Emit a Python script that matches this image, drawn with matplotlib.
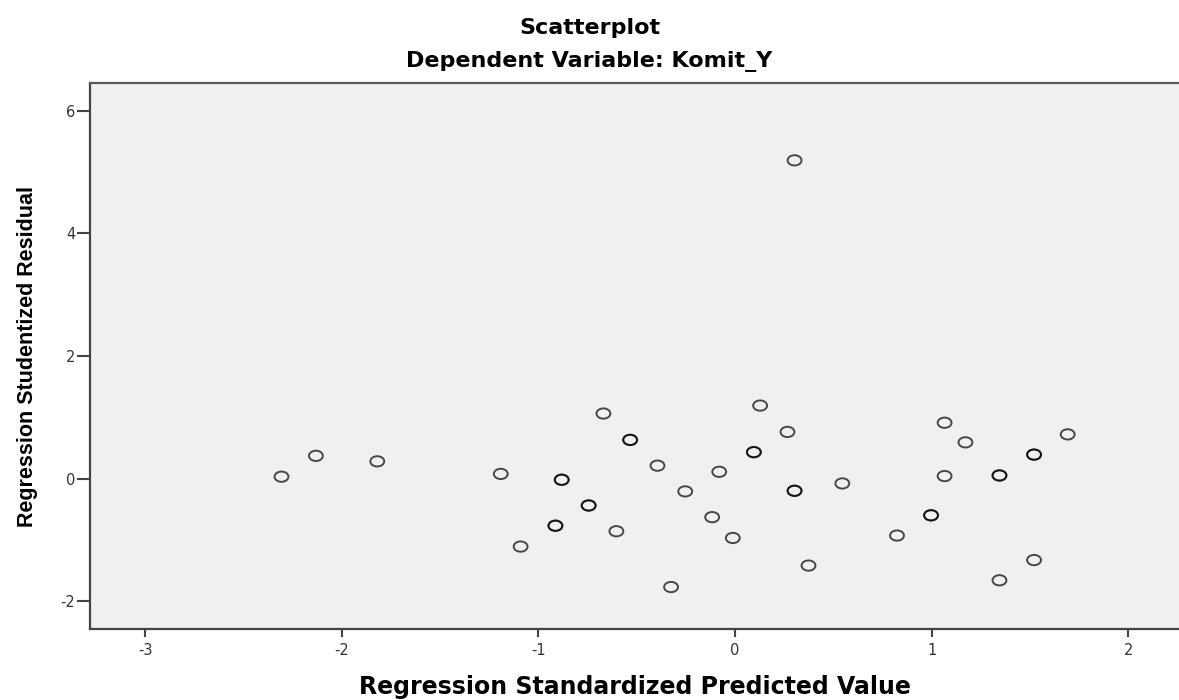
import numpy as np
import matplotlib
matplotlib.use("Agg")
import matplotlib.pyplot as plt
from matplotlib.path import Path
from matplotlib.transforms import Affine2D

# Regression Standardized Predicted Value vs Regression Studentized Residual
# (points that appear darker in the reference are plotted twice = overlapping cases)
pred = [-2.306, -2.131, -1.819, -1.191, -0.669,
        -0.533, -0.533, -0.394, -0.253,
        -0.881, -0.881, -0.744, -0.744, -0.913, -0.913,
        -0.603, -1.090, -0.325,
        0.128, 0.267, 0.096, 0.096, -0.080,
        0.303, 0.303, 0.546, -0.116, -0.011, 0.374,
        1.066, 1.172, 1.692, 1.521, 1.521, 1.066,
        1.345, 1.345, 0.997, 0.997, 0.824, 1.521, 1.345,
        0.303]
resid = [0.03, 0.37, 0.28, 0.075, 1.06,
         0.63, 0.63, 0.21, -0.21,
         -0.02, -0.02, -0.44, -0.44, -0.77, -0.77,
         -0.86, -1.11, -1.77,
         1.19, 0.76, 0.43, 0.43, 0.11,
         -0.20, -0.20, -0.08, -0.63, -0.97, -1.42,
         0.91, 0.59, 0.72, 0.39, 0.39, 0.04,
         0.05, 0.05, -0.60, -0.60, -0.93, -1.33, -1.66,
         5.19]

x_ticks = [-3, -2, -1, 0, 1, 2]
y_ticks = [-2, 0, 2, 4, 6]

plt.rcParams['font.family'] = ['DejaVu Sans']
plt.rcParams['axes.unicode_minus'] = False

fig = plt.figure(figsize=(11.79, 7), dpi=100)
ax = fig.add_axes([0.0763, 0.1014, 0.9237, 0.7796])
ax.set_facecolor('#f0f0f0')

# slightly wide open circle, as in the SPSS output
ellipse = Path.unit_circle().transformed(Affine2D().scale(1.0, 0.74))
ax.scatter(pred, resid, marker=ellipse, s=100, facecolors='none',
           edgecolors='black', alpha=0.7, linewidths=1.4, zorder=3)

ax.set_xlim(-3.28, 2.258)
ax.set_ylim(-2.455, 6.447)
ax.set_xticks(x_ticks)
ax.set_yticks(y_ticks)

for side in ['left', 'bottom', 'top']:
    ax.spines[side].set_color('#444444')
    ax.spines[side].set_linewidth(1.6)
ax.spines['top'].set_color('#5a5a5a')
ax.spines['right'].set_visible(False)

ax.tick_params(axis='y', direction='out', length=9.5, width=1.5,
               color='#444444', pad=1, labelsize=10.5, labelcolor='#333333')
ax.tick_params(axis='x', direction='out', length=6, width=1.5,
               color='#444444', pad=4, labelsize=10.5, labelcolor='#333333')

ax.set_xlabel('Regression Standardized Predicted Value',
              fontweight='bold', fontsize=17, labelpad=12)
ax.set_ylabel('Regression Studentized Residual',
              family=['Liberation Sans Narrow', 'Liberation Sans'],
              fontweight='bold', fontsize=15.5, labelpad=16)

fig.text(0.5, 1 - 28 / 700, 'Scatterplot', ha='center', va='center',
         fontsize=16, fontweight='bold')
fig.text(0.5, 1 - 62 / 700, 'Dependent Variable: Komit_Y', ha='center',
         va='center', fontsize=16, fontweight='bold')

fig.savefig('out.png', dpi=100)
